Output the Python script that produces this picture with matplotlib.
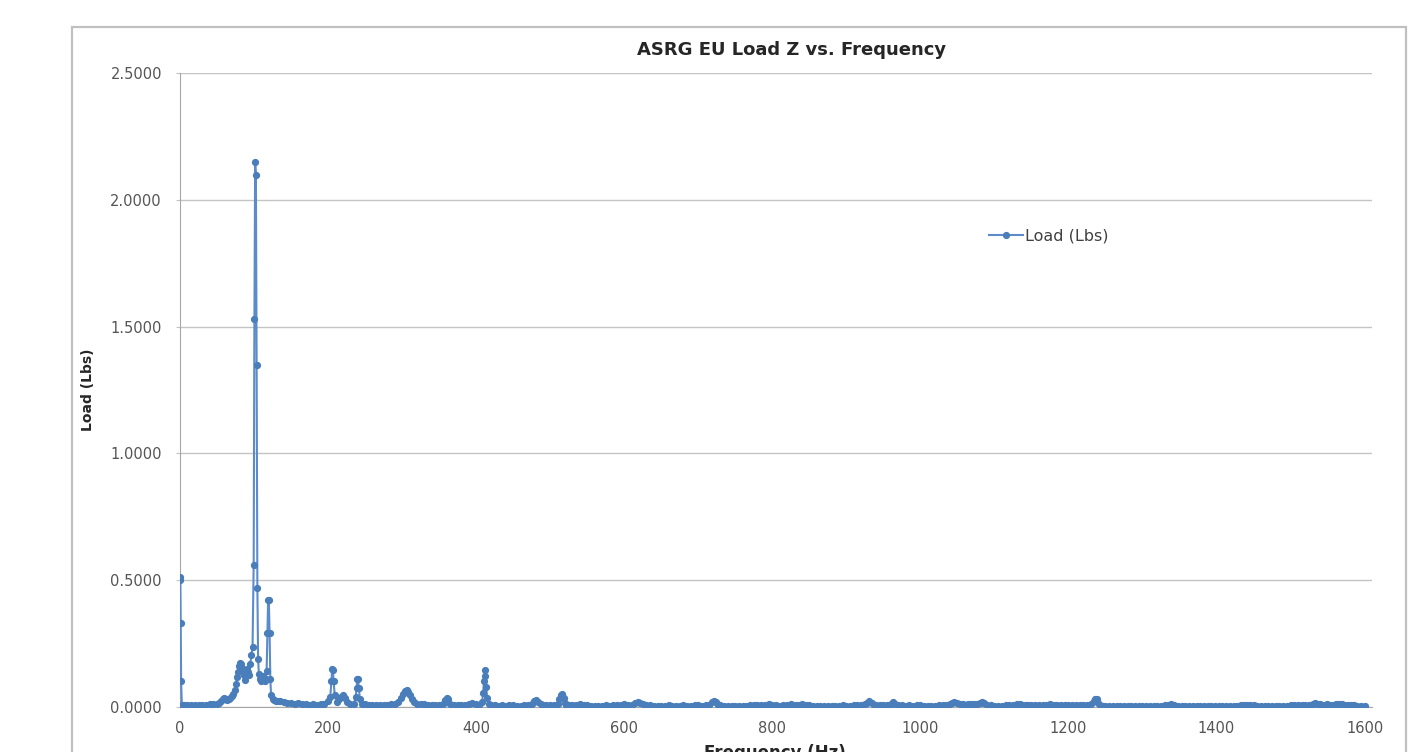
import matplotlib

matplotlib.use("Agg")
import matplotlib.pyplot as plt
from matplotlib.patches import Rectangle
from matplotlib.ticker import FormatStrFormatter

# Load spectrum, split into frequency bands (Hz, Lbs).
FREQ_0_135 = [
    0, 0.5, 1, 1.5, 2.5, 5, 10, 15, 20, 25,
    30, 35, 40, 45, 50, 53, 56, 58, 60, 62,
    64, 66, 68, 70, 72, 74, 75.5, 77, 78.5, 80,
    81.5, 83, 84.5, 86, 87.5, 89, 90.5, 92, 93.5, 95,
    96.5, 98, 99.5, 100.5, 101.5, 102.5, 103.5, 104.5, 105.5, 106.5,
    107.5, 109, 110.5, 112, 113.5, 115, 116, 117, 118, 119,
    120, 121, 122, 123, 125, 127.5, 130, 132.5,
]
LOAD_0_135 = [
    0.51, 0.50, 0.33, 0.10, 0.008, 0.005, 0.005, 0.006, 0.006, 0.007,
    0.007, 0.008, 0.009, 0.010, 0.012, 0.015, 0.022, 0.030, 0.035, 0.032,
    0.028, 0.030, 0.036, 0.042, 0.050, 0.065, 0.090, 0.118, 0.138, 0.160,
    0.172, 0.168, 0.150, 0.125, 0.105, 0.130, 0.148, 0.135, 0.125, 0.170,
    0.205, 0.237, 0.56, 1.53, 2.15, 2.10, 1.35, 0.47, 0.19, 0.13,
    0.11, 0.10, 0.11, 0.12, 0.11, 0.10, 0.11, 0.14, 0.29, 0.42,
    0.42, 0.29, 0.11, 0.045, 0.030, 0.025, 0.022, 0.024,
]

FREQ_135_450 = [
    135, 140, 145, 150, 155, 160, 165, 170, 175, 180,
    185, 190, 195, 200, 203, 204.5, 205.5, 206.5, 207.5, 209,
    212, 215, 218, 220, 223, 226, 230, 235, 237.5, 238.5,
    239.5, 240.5, 241.5, 243, 246, 250, 255, 260, 265, 270,
    275, 280, 285, 290, 295, 298, 301, 304, 306, 308,
    310, 313, 316, 320, 325, 330, 335, 340, 345, 350,
    355, 358, 360, 362, 365, 370, 375, 380, 385, 390,
    395, 400, 404, 408, 409.5, 410.5, 411.5, 412.5, 413.5, 415,
    417, 420, 425, 430, 435, 440, 445,
]
LOAD_135_450 = [
    0.022, 0.020, 0.016, 0.014, 0.012, 0.013, 0.010, 0.009, 0.008, 0.010,
    0.007, 0.009, 0.012, 0.022, 0.040, 0.10, 0.148, 0.145, 0.10, 0.045,
    0.020, 0.030, 0.040, 0.045, 0.035, 0.020, 0.012, 0.012, 0.040, 0.075,
    0.11, 0.108, 0.075, 0.030, 0.012, 0.010, 0.008, 0.007, 0.008, 0.006,
    0.007, 0.008, 0.009, 0.012, 0.020, 0.035, 0.050, 0.063, 0.065, 0.058,
    0.045, 0.030, 0.018, 0.010, 0.012, 0.010, 0.007, 0.006, 0.005, 0.008,
    0.012, 0.025, 0.035, 0.030, 0.012, 0.006, 0.005, 0.005, 0.006, 0.009,
    0.014, 0.010, 0.008, 0.020, 0.055, 0.10, 0.145, 0.12, 0.076, 0.035,
    0.010, 0.006, 0.005, 0.004, 0.005, 0.004, 0.005,
]

FREQ_450_1000 = [
    450, 455, 460, 465, 470, 475, 478, 481, 484, 487,
    490, 495, 500, 505, 510, 512, 514, 516, 518, 520,
    522, 525, 530, 535, 540, 545, 550, 555, 560, 565,
    570, 575, 580, 585, 590, 595, 600, 605, 610, 615,
    618, 621, 625, 630, 635, 640, 645, 650, 655, 660,
    665, 670, 675, 680, 685, 690, 695, 700, 705, 710,
    715, 718, 721, 724, 727, 730, 735, 740, 745, 750,
    755, 760, 765, 770, 775, 780, 785, 790, 795, 800,
    805, 810, 815, 820, 825, 830, 835, 840, 845, 850,
    855, 860, 865, 870, 875, 880, 885, 890, 895, 900,
    905, 910, 915, 920, 925, 928, 931, 934, 937, 940,
    945, 950, 955, 960, 963, 966, 970, 975, 980, 985,
    990, 995,
]
LOAD_450_1000 = [
    0.005, 0.004, 0.004, 0.005, 0.006, 0.012, 0.022, 0.028, 0.020, 0.010,
    0.006, 0.005, 0.005, 0.006, 0.012, 0.030, 0.048, 0.050, 0.035, 0.015,
    0.008, 0.006, 0.006, 0.008, 0.010, 0.007, 0.005, 0.004, 0.004, 0.004,
    0.004, 0.005, 0.004, 0.005, 0.006, 0.007, 0.010, 0.008, 0.008, 0.014,
    0.018, 0.016, 0.010, 0.007, 0.005, 0.004, 0.004, 0.004, 0.004, 0.005,
    0.004, 0.004, 0.004, 0.005, 0.004, 0.004, 0.005, 0.005, 0.004, 0.006,
    0.008, 0.018, 0.024, 0.020, 0.008, 0.005, 0.004, 0.004, 0.004, 0.004,
    0.004, 0.004, 0.004, 0.005, 0.006, 0.008, 0.006, 0.006, 0.010, 0.006,
    0.005, 0.004, 0.005, 0.008, 0.012, 0.008, 0.006, 0.010, 0.007, 0.005,
    0.004, 0.004, 0.004, 0.004, 0.004, 0.004, 0.004, 0.004, 0.005, 0.004,
    0.004, 0.005, 0.005, 0.006, 0.010, 0.015, 0.022, 0.015, 0.008, 0.005,
    0.005, 0.006, 0.008, 0.012, 0.020, 0.012, 0.006, 0.005, 0.004, 0.005,
    0.004, 0.005,
]

FREQ_1000_1600 = [
    1000, 1005, 1010, 1015, 1020, 1025, 1030, 1035, 1040, 1043,
    1046, 1049, 1053, 1057, 1061, 1064, 1068, 1072, 1076, 1080,
    1083, 1086, 1090, 1095, 1100, 1105, 1110, 1115, 1120, 1125,
    1130, 1134, 1138, 1142, 1146, 1150, 1155, 1160, 1165, 1170,
    1175, 1180, 1185, 1190, 1195, 1200, 1205, 1210, 1215, 1220,
    1225, 1230, 1234, 1236, 1238, 1240, 1243, 1247, 1250, 1255,
    1260, 1265, 1270, 1275, 1280, 1285, 1290, 1295, 1300, 1305,
    1310, 1315, 1320, 1325, 1330, 1335, 1339, 1343, 1348, 1353,
    1358, 1363, 1368, 1373, 1378, 1383, 1388, 1393, 1398, 1403,
    1408, 1413, 1418, 1423, 1428, 1433, 1437, 1441, 1445, 1450,
    1455, 1460, 1465, 1470, 1475, 1480, 1485, 1490, 1495, 1500,
    1505, 1510, 1515, 1520, 1525, 1530, 1533, 1536, 1540, 1545,
    1549, 1553, 1557, 1561, 1565, 1570, 1574, 1578, 1582, 1586,
    1590, 1595, 1600,
]
LOAD_1000_1600 = [
    0.005, 0.004, 0.004, 0.004, 0.004, 0.005, 0.006, 0.007, 0.009, 0.014,
    0.020, 0.014, 0.009, 0.010, 0.008, 0.012, 0.009, 0.010, 0.011, 0.013,
    0.017, 0.013, 0.007, 0.005, 0.004, 0.004, 0.004, 0.005, 0.005, 0.006,
    0.009, 0.012, 0.008, 0.006, 0.005, 0.005, 0.005, 0.006, 0.006, 0.008,
    0.010, 0.008, 0.006, 0.007, 0.006, 0.005, 0.005, 0.006, 0.005, 0.006,
    0.008, 0.010, 0.022, 0.030, 0.030, 0.015, 0.006, 0.004, 0.004, 0.004,
    0.004, 0.004, 0.004, 0.004, 0.004, 0.004, 0.004, 0.004, 0.004, 0.004,
    0.004, 0.004, 0.004, 0.004, 0.005, 0.006, 0.010, 0.006, 0.004, 0.004,
    0.004, 0.004, 0.004, 0.004, 0.004, 0.004, 0.004, 0.004, 0.004, 0.004,
    0.004, 0.004, 0.004, 0.004, 0.004, 0.005, 0.006, 0.008, 0.006, 0.005,
    0.004, 0.004, 0.004, 0.004, 0.004, 0.004, 0.004, 0.004, 0.004, 0.005,
    0.005, 0.006, 0.006, 0.007, 0.008, 0.011, 0.016, 0.012, 0.009, 0.008,
    0.010, 0.008, 0.008, 0.009, 0.010, 0.009, 0.008, 0.007, 0.006, 0.005,
    0.004, 0.004, 0.004,
]

X_TICKS = [0, 200, 400, 600, 800, 1000, 1200, 1400, 1600]
Y_TICKS = [0.0, 0.5, 1.0, 1.5, 2.0, 2.5]

TITLE = "ASRG EU Load Z vs. Frequency"
SERIES = "Load (Lbs)"

freq = FREQ_0_135 + FREQ_135_450 + FREQ_450_1000 + FREQ_1000_1600
load = LOAD_0_135 + LOAD_135_450 + LOAD_450_1000 + LOAD_1000_1600

W, H = 1411, 752
plt.rcParams["font.family"] = ["DejaVu Sans"]
fig = plt.figure(figsize=(W / 100, H / 100), dpi=100)
ax = fig.add_axes([180 / W, 1 - 706.7 / H, (1372 - 180) / W, (706.7 - 73.3) / H])

line_col = "#4a7ebb"
ax.plot(freq, load, color="#5b8bcb", lw=1.5, marker="o", ms=4.2,
        mfc=line_col, mec=line_col, label=SERIES, zorder=3)

ax.set_xlim(0, 1610)
ax.set_ylim(0, 2.5)
ax.set_xticks(X_TICKS)
ax.set_yticks(Y_TICKS)
ax.yaxis.set_major_formatter(FormatStrFormatter("%.4f"))
ax.grid(axis="y", color="#c4c4c4", lw=1.0)
ax.set_axisbelow(True)
for side in ("top", "right"):
    ax.spines[side].set_visible(False)
ax.spines["left"].set_color("#a6a6a6")
ax.spines["bottom"].set_color("#a6a6a6")
ax.tick_params(axis="y", length=3, color="#c4c4c4", pad=10,
               labelsize=10.5, labelcolor="#555555")
ax.tick_params(axis="x", length=0, pad=10,
               labelsize=10.5, labelcolor="#555555")

fig.text(792 / W, 1 - 50 / H, TITLE, ha="center", va="center",
         fontsize=13, fontweight="bold", color="#262626")
fig.text(88 / W, 1 - 390 / H, "Load (Lbs)", rotation=90, ha="center",
         va="center", fontsize=10, fontweight="bold", color="#262626",
         family=["Liberation Sans Narrow", "DejaVu Sans"])
fig.text(775 / W, 1 - 744 / H, "Frequency (Hz)", ha="center", va="top",
         fontsize=12, fontweight="bold", color="#262626")

ax.legend(loc="center left", bbox_to_anchor=(989 / W, 1 - 236 / H),
          bbox_transform=fig.transFigure, frameon=False, numpoints=1,
          handlelength=2.1, handletextpad=0.15, borderpad=0,
          borderaxespad=0, prop={"size": 11.5}, labelcolor="#404040")

# outer chart frame (runs off the bottom of the image)
fig.patches.append(Rectangle((72 / W, -0.1), (1406 - 72) / W, 0.1 + 1 - 27 / H,
                             transform=fig.transFigure, fill=False,
                             edgecolor="#c0c0c0", lw=1.6))

fig.savefig("out.png", dpi=100)
